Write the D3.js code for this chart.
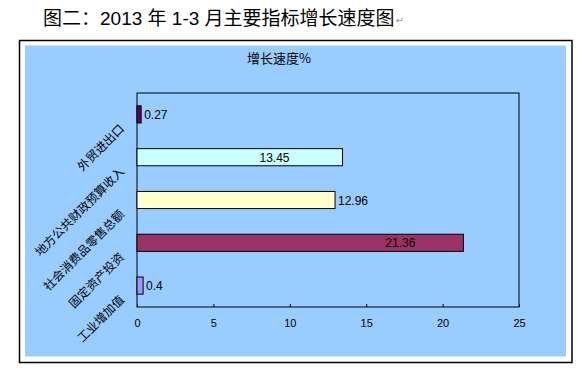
<!DOCTYPE html>
<html>
<head>
<meta charset="utf-8">
<script src="https://cdn.jsdelivr.net/npm/d3@7"></script>
<style>
  body { margin: 0; background: #fff; }
  svg { display: block; }
</style>
</head>
<body>
<div id="chart"></div>
<script>
// chart data
var categories = ["外贸进出口", "地方公共财政预算收入", "社会消费品零售总额", "固定资产投资", "工业增加值"];
var values = [0.27, 13.45, 12.96, 21.36, 0.4];
var barColors = ["#660066", "#CCFFFF", "#FFFFCC", "#993366", "#9999FF"];
var xTicks = [0, 5, 10, 15, 20, 25];
var pageTitle = "图二：2013 年 1-3 月主要指标增长速度图";
var chartTitle = "增长速度%";

var svgWidth = 578;
var svgHeight = 371;

var plot = { left: 137, right: 519, top: 93, bottom: 307 };

var svg = d3.select("#chart")
    .append("svg")
    .attr("width", svgWidth)
    .attr("height", svgHeight);

// page title above the chart frame
var titleText = svg.append("text")
    .attr("x", 43)
    .attr("y", 25)
    .style("font-family", "'Liberation Sans', 'Noto Sans CJK SC', sans-serif")
    .style("font-size", "19px")
    .style("fill", "#000")
    .text(pageTitle);

var tw = titleText.node().getComputedTextLength();
svg.append("text")
    .attr("x", 43 + tw + 1)
    .attr("y", 24)
    .style("font-family", "'DejaVu Sans', sans-serif")
    .style("font-size", "10px")
    .style("fill", "#999")
    .text("\u21B5");

// outer frame + chart area
svg.append("rect")
    .attr("x", 19.5)
    .attr("y", 40.5)
    .attr("width", 552.5)
    .attr("height", 322)
    .attr("fill", "#fff")
    .attr("stroke", "#000")
    .attr("stroke-width", 1.5);

svg.append("rect")
    .attr("x", 25)
    .attr("y", 45.5)
    .attr("width", 541)
    .attr("height", 311)
    .attr("fill", "#99CCFF");

svg.append("text")
    .attr("x", 279)
    .attr("y", 63)
    .attr("text-anchor", "middle")
    .style("font-family", "'Noto Sans CJK SC', sans-serif")
    .style("font-size", "13px")
    .style("fill", "#000")
    .text(chartTitle);

// scales
var xScale = d3.scaleLinear()
    .domain([0, 25])
    .range([plot.left, plot.right]);

var yScale = d3.scaleBand()
    .domain(categories)
    .range([plot.top, plot.bottom])
    .paddingInner(0.6)
    .paddingOuter(0.3);

// plot border
svg.append("rect")
    .attr("x", plot.left)
    .attr("y", plot.top)
    .attr("width", plot.right - plot.left)
    .attr("height", plot.bottom - plot.top)
    .attr("fill", "none")
    .attr("stroke", "#000")
    .attr("stroke-width", 1);

// x axis, ticks pointing up into the plot
var bottomAxis = d3.axisBottom(xScale)
    .tickValues(xTicks)
    .tickSizeInner(-3)
    .tickSizeOuter(0)
    .tickPadding(12);

var xAxis = svg.append("g")
    .attr("transform", `translate(0, ${plot.bottom})`)
    .call(bottomAxis);

xAxis.select(".domain").remove();
xAxis.selectAll("line").attr("stroke", "#000");
xAxis.selectAll("text")
    .style("font-family", "'Liberation Sans', Arial, sans-serif")
    .style("font-size", "11px")
    .style("fill", "#000");

// bars
var data = categories.map(function(c, i) {
    return { cat: c, value: values[i], color: barColors[i] };
});

svg.selectAll("rect.bar")
    .data(data)
    .enter()
    .append("rect")
    .attr("class", "bar")
    .attr("x", xScale(0))
    .attr("y", d => yScale(d.cat))
    .attr("width", d => xScale(d.value) - xScale(0))
    .attr("height", yScale.bandwidth())
    .attr("fill", d => d.color)
    .attr("stroke", "#000")
    .attr("stroke-width", 1);

// value labels: some sit outside the bar end, two were moved inside
var insideShift = { 1: -53, 3: -48 };

svg.selectAll("text.val")
    .data(data)
    .enter()
    .append("text")
    .attr("class", "val")
    .attr("x", (d, i) => insideShift[i] !== undefined ? xScale(d.value) + insideShift[i] : xScale(d.value) + 3)
    .attr("y", d => yScale(d.cat) + yScale.bandwidth() / 2 + 4.5)
    .attr("text-anchor", (d, i) => insideShift[i] !== undefined ? "end" : "start")
    .style("font-family", "'Liberation Sans', Arial, sans-serif")
    .style("font-size", "12px")
    .style("fill", "#000")
    .text(d => d.value);

// category labels rotated 45 degrees
svg.selectAll("text.cat")
    .data(categories)
    .enter()
    .append("text")
    .attr("class", "cat")
    .attr("text-anchor", "end")
    .attr("transform", function(d) {
        var cy = yScale(d) + yScale.bandwidth() / 2;
        return `translate(125, ${cy + 15}) rotate(-45)`;
    })
    .style("font-family", "'Noto Sans CJK SC', sans-serif")
    .style("font-size", "12px")
    .style("fill", "#000")
    .text(d => d);
</script>
</body>
</html>
